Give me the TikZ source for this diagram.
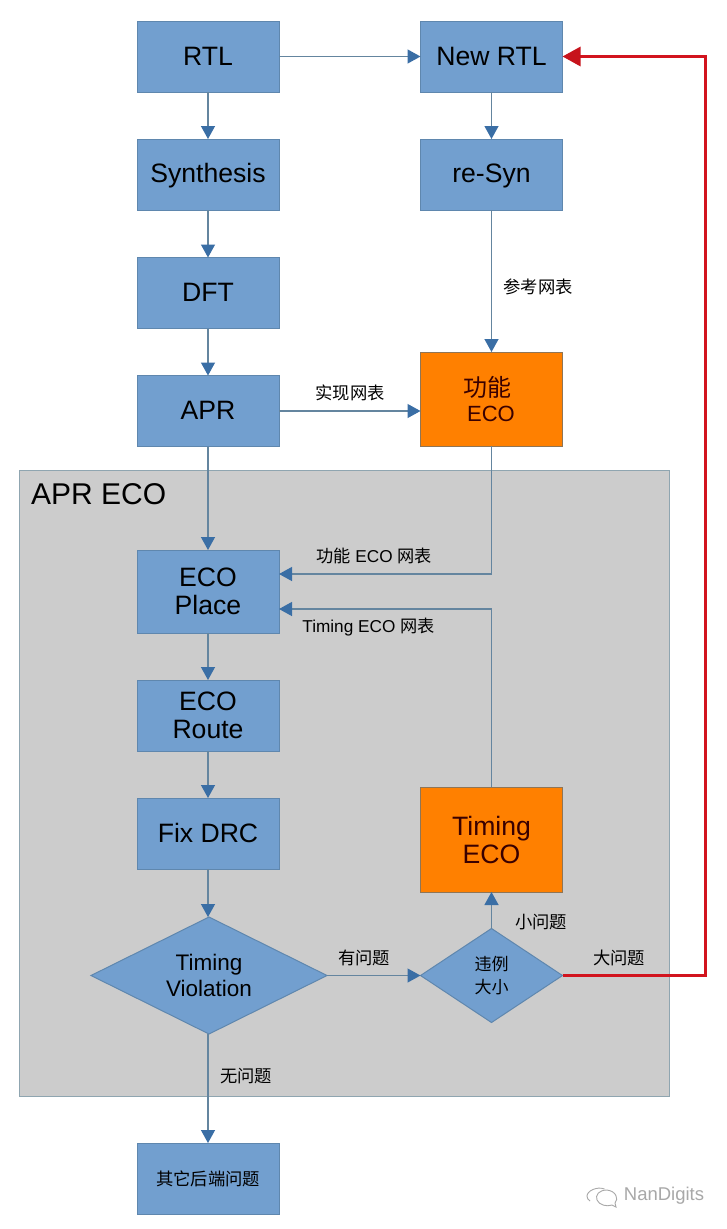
\documentclass[tikz,border=0pt]{standalone}
\usepackage{fontspec}
\setmainfont{Liberation Sans}
\newfontfamily\cjk{Noto Sans CJK SC}
\usetikzlibrary{arrows.meta,shapes.geometric,calc}
\definecolor{boxblue}{HTML}{729FCF}
\definecolor{boxline}{HTML}{5F87AE}
\definecolor{linkblue}{HTML}{64859F}
\definecolor{headblue}{HTML}{3A6EA5}
\definecolor{orangefill}{HTML}{FF8000}
\definecolor{orangeline}{HTML}{8F7556}
\definecolor{panelgray}{HTML}{CCCCCC}
\definecolor{panelline}{HTML}{8FA5B0}
\definecolor{redlink}{HTML}{D2141E}
\definecolor{wm}{HTML}{A8A8A8}
\newcommand{\boxstrut}{\rule{0pt}{22pt}\rule[-5pt]{0pt}{5pt}}
\tikzset{
  x=1pt,y=-1pt,
  base/.style={draw=boxline,line width=1pt,inner sep=0pt,outer sep=0pt,align=center,text=black},
  bluebox/.style={base,fill=boxblue,minimum width=142pt,font=\fontsize{26.6}{28}\selectfont},
  orangebox/.style={base,fill=orangefill,draw=orangeline,minimum width=142pt,text=black!75!red!90!black,font=\fontsize{26.6}{28}\selectfont},
  bigdia/.style={base,shape=diamond,fill=boxblue,minimum width=236pt,minimum height=117pt,aspect=2,font=\fontsize{22.5}{26}\selectfont},
  smalldia/.style={base,shape=diamond,fill=boxblue,minimum width=142pt,minimum height=94pt,aspect=1.5,font=\cjk\fontsize{17}{23}\selectfont},
  link/.style={draw=linkblue,line width=1.3pt,-{Triangle[length=13pt,width=14pt,color=headblue]}},
  redarrow/.style={draw=redlink,line width=3pt,-{Triangle[length=18pt,width=19pt,color=redlink!95!black]}},
  lab/.style={inner sep=0pt,outer sep=0pt,text=black,font=\fontsize{17.2}{20}\selectfont},
  cjklab/.style={lab,font=\cjk\fontsize{17.3}{20}\selectfont},
}
\begin{document}
\begin{tikzpicture}
\useasboundingbox (0,0) rectangle (727,1229);
\fill[white] (0,0) rectangle (727,1229);
\node[draw=panelline,fill=panelgray,line width=1pt,minimum width=650pt,minimum height=626pt,inner sep=0pt,outer sep=0pt] (panel) at (344,783) {};
\node[anchor=west,inner sep=0pt,font=\fontsize{30}{32}\selectfont,text=black] (paneltitle) at (31,494) {APR ECO};

\node[bluebox,minimum height=71pt] (rtl) at (208,56.5) {\boxstrut RTL};
\node[bluebox,minimum height=71pt] (syn) at (208,174.5) {\boxstrut Synthesis};
\node[bluebox,minimum height=71pt] (dft) at (208,293) {\boxstrut DFT};
\node[bluebox,minimum height=71pt] (apr) at (208,411) {\boxstrut APR};
\node[bluebox,minimum height=83pt] (place) at (208,591.5) {ECO\\Place};
\node[bluebox,minimum height=71pt] (route) at (208,715.5) {ECO\\Route};
\node[bluebox,minimum height=71pt] (drc) at (208,833.5) {\boxstrut Fix DRC};
\node[bigdia] (viol) at (209,975.5) {Timing\\Violation};
\node[bluebox,minimum height=71pt,font=\cjk\fontsize{17.3}{20}\selectfont] (other) at (208,1178.5) {其它后端问题};

\node[bluebox,minimum height=71pt] (newrtl) at (491.5,56.5) {\boxstrut New RTL};
\node[bluebox,minimum height=71pt] (resyn) at (491.5,174.5) {\boxstrut re-Syn};
\node[orangebox,minimum height=94pt] (feco) at (491.5,399) {};
\node[inner sep=0pt,font=\cjk\fontsize{24}{26}\selectfont,text=black!75!red!90!black] (fecoa) at (487,387) {功能};
\node[inner sep=0pt,font=\fontsize{22}{24}\selectfont,text=black!75!red!90!black] (fecob) at (491,414) {ECO};
\node[orangebox,minimum height=105pt] (teco) at (491.5,839.5) {Timing\\ECO};
\node[smalldia] (size) at (491.5,975.5) {违例\\大小};

\draw[link] (rtl) -- (newrtl);
\draw[link] (rtl) -- (syn);
\draw[link] (syn) -- (dft);
\draw[link] (dft) -- (apr);
\draw[link] (apr) -- (place);
\draw[link] (place) -- (route);
\draw[link] (route) -- (drc);
\draw[link] (drc.south) -- (drc.south |- viol.north);
\draw[link] (other.north |- viol.south) -- (other.north);
\draw[link] (newrtl) -- (resyn);
\draw[link] (resyn) -- (feco);
\draw[link] (apr.east) -- (apr.east -| feco.west);
\draw[link] (viol) -- (size);
\draw[link] (size) -- (teco);

\coordinate (fturn) at (491.5,574);
\coordinate (fin) at (279,574);
\coordinate (tturn) at (491.5,609);
\coordinate (tin) at (279,609);
\draw[link] (feco.south) -- (fturn) -- (fin);
\draw[link] (teco.north) -- (tturn) -- (tin);

\coordinate (rturn1) at (705,975.5);
\coordinate (rturn2) at (705,56.5);
\draw[redarrow] (size.east) -- (rturn1) -- (rturn2) -- (newrtl.east);

\node[cjklab] (l1) at (538,287) {参考网表};
\node[cjklab] (l2) at (350,393) {实现网表};
\node[lab] (l3) at (374,556) {{\cjk 功能} ECO {\cjk 网表}};
\node[lab] (l4) at (368.5,627) {Timing ECO {\cjk 网表}};
\node[cjklab] (l5) at (364,958) {有问题};
\node[cjklab] (l6) at (541,922) {小问题};
\node[cjklab] (l7) at (619,958) {大问题};
\node[cjklab] (l8) at (246,1076) {无问题};

\node[inner sep=0pt,text=wm,font=\fontsize{18.5}{20}\selectfont] (mark) at (664,1196) {NanDigits};
\draw[wm,line width=0.9pt] (604.5,1189) .. controls (597,1186) and (587,1191) .. (587,1196) .. controls (587,1198) and (588,1200) .. (590,1201);
\draw[wm,line width=0.9pt] (607,1190) .. controls (599,1190) and (595,1195) .. (597,1200) .. controls (599,1205) and (607,1207) .. (612,1205) -- (616,1207) -- (615,1203) .. controls (619,1199) and (616,1191) .. (607,1190);
\end{tikzpicture}
\end{document}
